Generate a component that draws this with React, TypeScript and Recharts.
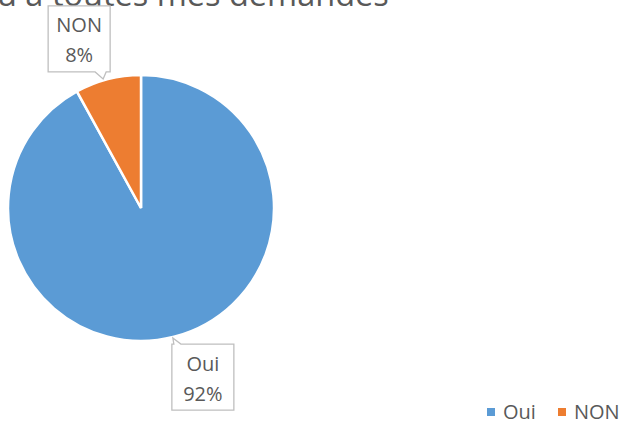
import React from 'react';
import { PieChart, Pie, Cell, Legend } from 'recharts';

const categories = ['Oui', 'NON'];
const values = [92, 8];
const colors = ['#5b9bd5', '#ed7d31'];
const title = 'u à toutes mes demandes';

const data = categories.map((name, i) => ({ name, value: values[i], color: colors[i] }));

const RADIAN = Math.PI / 180;
const BOX_W = 62;
const BOX_H = 66;
const FONT = "'Open Sans', sans-serif";

function CalloutLabel(props: any) {
  const { cx, cy, midAngle, outerRadius, percent, name } = props;
  const angle = (midAngle + 5.7) * RADIAN;
  const r = outerRadius + 47;
  const bx = cx + r * Math.cos(-angle);
  const by = cy + r * Math.sin(-angle);
  const left = bx - BOX_W / 2;
  const right = bx + BOX_W / 2;
  const top = by - BOX_H / 2;
  const bottom = by + BOX_H / 2;
  const below = by < cy;
  const towardRight = bx < cx;
  let d = '';
  if (below) {
    // tail on bottom edge
    const a = towardRight ? right - 15 : left + 5;
    const b = towardRight ? right - 4 : left + 15;
    const ax = towardRight ? right - 7 : left + 7;
    d = `M${left},${top} L${right},${top} L${right},${bottom} L${b},${bottom} L${ax},${bottom + 7} L${a},${bottom} L${left},${bottom} Z`;
  } else {
    // tail on top edge
    const a = towardRight ? right - 9 : left + 2;
    const b = towardRight ? right - 2 : left + 9;
    const ax = towardRight ? right - 1 : left + 1;
    d = `M${left},${top} L${a},${top} L${ax},${top - 6} L${b},${top} L${right},${top} L${right},${bottom} L${left},${bottom} Z`;
  }
  return (
    <g>
      <path d={d} fill="#ffffff" stroke="#bfbfbf" strokeWidth={1.3} />
      <text x={bx} y={by - 14} textAnchor="middle" dominantBaseline="central" fill="#595959" fontSize={20} fontFamily={FONT}>
        {name}
      </text>
      <text x={bx} y={by + 16} textAnchor="middle" dominantBaseline="central" fill="#595959" fontSize={20} fontFamily={FONT}>
        {`${(percent * 100).toFixed(0)}%`}
      </text>
    </g>
  );
}

function LegendContent() {
  return (
    <div style={{ display: 'flex', gap: 22, fontFamily: FONT, fontSize: 20, color: '#595959', lineHeight: '24px' }}>
      {data.map((d) => (
        <div key={d.name} style={{ display: 'flex', alignItems: 'center' }}>
          <span style={{ width: 8, height: 8, background: d.color, display: 'inline-block', marginRight: 8 }} />
          {d.name}
        </div>
      ))}
    </div>
  );
}

export default function App() {
  return (
    <div style={{ position: 'absolute', left: 0, top: 0, width: 624, height: 424, background: '#fff', overflow: 'hidden' }}>
      <div
        style={{
          position: 'absolute',
          left: -3,
          top: -26,
          fontFamily: FONT,
          fontSize: 32.5,
          color: '#595959',
          whiteSpace: 'nowrap',
          lineHeight: '40px',
        }}
      >
        {title}
      </div>
      <PieChart width={624} height={424} margin={{ top: 0, right: 0, bottom: 0, left: 0 }}>
        <Pie
          data={data}
          dataKey="value"
          nameKey="name"
          cx={141}
          cy={208}
          outerRadius={133}
          startAngle={90}
          endAngle={-270}
          stroke="#ffffff"
          strokeWidth={2.5}
          label={CalloutLabel}
          labelLine={false}
          isAnimationActive={false}
        >
          {data.map((entry, index) => (
            <Cell key={`cell-${index}`} fill={entry.color} />
          ))}
        </Pie>
        <Legend
          content={<LegendContent />}
          wrapperStyle={{ position: 'absolute', left: 487, top: 400, width: 140 }}
        />
      </PieChart>
    </div>
  );
}
